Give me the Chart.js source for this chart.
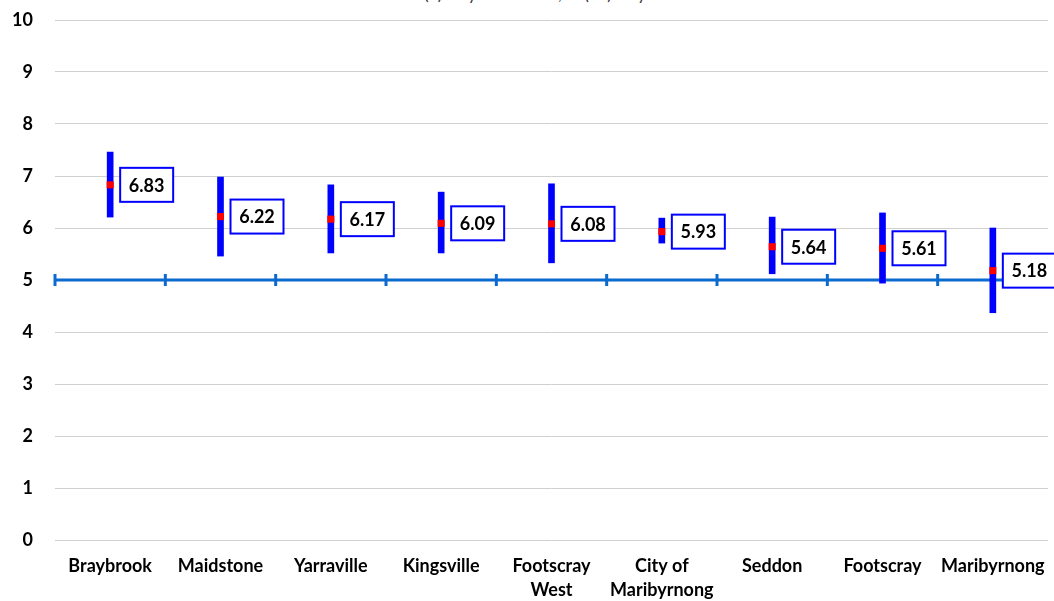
<!DOCTYPE html>
<html>
<head>
<meta charset="utf-8">
<script src="https://cdn.jsdelivr.net/npm/chart.js@4.4.0/dist/chart.umd.min.js"></script>
<style>
    html, body { margin: 0; padding: 0; background: #fff; }
    #wrap { position: relative; width: 1054px; height: 601px; overflow: hidden; }
    #title { position: absolute; top: -16px; left: 0; width: 1054px; text-align: center;
             font: 16px Lato, sans-serif; color: #333; }
    canvas { position: absolute; left: 0; top: 0; }
</style>
</head>
<body>
<div id="wrap">
    <div id="title">Scale from (0) very dissatisfied, to (10) very satisfied</div>
    <canvas id="chart" width="1054" height="601"></canvas>
</div>
<script>
// Data
const suburbs = ['Braybrook', 'Maidstone', 'Yarraville', 'Kingsville', ['Footscray', 'West'],
    ['City of', 'Maribyrnong'], 'Seddon', 'Footscray', 'Maribyrnong'];
const means = [6.83, 6.22, 6.17, 6.09, 6.08, 5.93, 5.64, 5.61, 5.18];
const lower = [6.21, 5.46, 5.52, 5.52, 5.33, 5.71, 5.12, 4.94, 4.37];
const upper = [7.46, 6.98, 6.83, 6.69, 6.85, 6.19, 6.21, 6.29, 6.00];
const midline = 5;

const FONT = 'Lato, "Liberation Sans", sans-serif';

// Reference line at 5 with little tick marks between categories
const midlinePlugin = {
    id: 'midline',
    beforeDatasetsDraw(chart) {
        const { ctx, chartArea, scales } = chart;
        const y = scales.y.getPixelForValue(midline);
        const x = scales.x;
        ctx.save();
        ctx.strokeStyle = '#0a6ad0';
        ctx.lineWidth = 3;
        ctx.beginPath();
        ctx.moveTo(chartArea.left, y);
        ctx.lineTo(chartArea.right, y);
        ctx.stroke();
        const step = x.getPixelForValue(1) - x.getPixelForValue(0);
        for (let i = 0; i <= suburbs.length; i++) {
            const tx = x.getPixelForValue(0) - step / 2 + i * step;
            ctx.beginPath();
            ctx.moveTo(tx, y - 6);
            ctx.lineTo(tx, y + 6);
            ctx.stroke();
        }
        ctx.restore();
    }
};

// Boxed value labels to the right of each mean
const boxLabels = {
    id: 'boxLabels',
    afterDatasetsDraw(chart) {
        const { ctx } = chart;
        const meta = chart.getDatasetMeta(1);
        ctx.save();
        ctx.font = 'bold 18px ' + FONT;
        ctx.textBaseline = 'middle';
        meta.data.forEach((pt, i) => {
            const text = means[i].toFixed(2);
            const w = 53, h = 34;
            const left = pt.x + 10;
            const top = pt.y - h / 2;
            ctx.fillStyle = '#fff';
            ctx.fillRect(left, top, w, h);
            ctx.strokeStyle = '#0000ff';
            ctx.lineWidth = 2;
            ctx.strokeRect(left, top, w, h);
            ctx.fillStyle = '#000';
            ctx.textAlign = 'center';
            ctx.fillText(text, left + w / 2, pt.y + 1);
        });
        ctx.restore();
    }
};

new Chart(document.getElementById('chart'), {
    data: {
        labels: suburbs,
        datasets: [{
            type: 'bar',
            data: lower.map((lo, i) => [lo, upper[i]]),
            backgroundColor: '#0000ff',
            barThickness: 6,
            borderSkipped: false,
            order: 2
        }, {
            type: 'line',
            data: means,
            showLine: false,
            pointStyle: 'rect',
            pointRadius: 5,
            backgroundColor: '#ff0000',
            borderColor: '#ff0000',
            borderWidth: 0,
            order: 1
        }]
    },
    options: {
        responsive: false,
        animation: false,
        layout: { padding: { top: 20, right: 6, left: 10, bottom: 0 } },
        plugins: {
            legend: { display: false },
            tooltip: { enabled: false }
        },
        scales: {
            x: {
                grid: { display: false },
                border: { display: false },
                ticks: {
                    color: '#000',
                    font: { family: FONT, size: 18, weight: 'bold', lineHeight: 1.35 },
                    maxRotation: 0,
                    autoSkip: false,
                    padding: 6
                },
                afterFit(scale) {
                    scale.height = 61;
                    scale.paddingLeft = 0;
                    scale.paddingRight = 0;
                }
            },
            y: {
                min: 0,
                max: 10,
                grid: { color: '#d0d0d0', drawTicks: false },
                border: { display: false },
                ticks: {
                    stepSize: 1,
                    color: '#000',
                    font: { family: FONT, size: 18, weight: 'bold' },
                    padding: 22
                },
                afterFit(scale) {
                    scale.width = 45;
                    scale.paddingTop = 0;
                    scale.paddingBottom = 0;
                }
            }
        }
    },
    plugins: [midlinePlugin, boxLabels]
});
</script>
</body>
</html>
